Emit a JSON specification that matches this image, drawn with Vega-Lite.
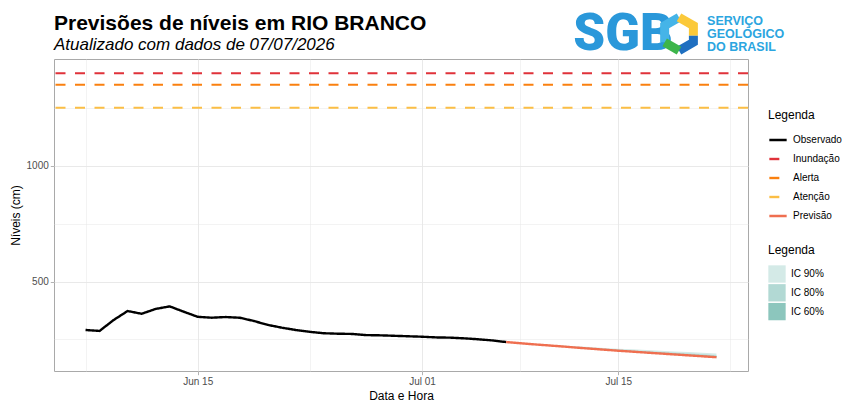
{
  "$schema": "https://vega.github.io/schema/vega-lite/v6.json",
  "width": 694,
  "height": 312,
  "autosize": {"type": "none"},
  "padding": {"left": 54, "top": 59, "right": 97, "bottom": 32},
  "background": "white",
  "title": {
    "text": "Previsões de níveis em RIO BRANCO",
    "subtitle": "Atualizado com dados de 07/07/2026",
    "anchor": "start",
    "frame": "group",
    "font": "Liberation Sans",
    "fontSize": 21,
    "fontWeight": "bold",
    "color": "black",
    "subtitleFont": "Liberation Sans",
    "subtitleFontSize": 17,
    "subtitleFontStyle": "italic",
    "subtitleColor": "black",
    "offset": -54,
    "subtitlePadding": 3
  },
  "config": {
    "font": "Liberation Sans",
    "view": {"stroke": "#A9A9A9", "strokeWidth": 1},
    "axis": {
      "domain": false,
      "tickColor": "#B3B3B3",
      "tickSize": 3.7,
      "labelColor": "#4D4D4D",
      "labelFont": "Liberation Sans",
      "labelFontSize": 10,
      "labelPadding": 2,
      "titleFont": "Liberation Sans",
      "titleFontSize": 12,
      "titleFontWeight": "normal",
      "titleColor": "black",
      "gridColor": "#E6E6E6"
    },
    "legend": {
      "orient": "none",
      "padding": 0,
      "titleFont": "Liberation Sans",
      "titleFontSize": 12,
      "titleFontWeight": "normal",
      "titleColor": "black",
      "titlePadding": 8,
      "labelFont": "Liberation Sans",
      "labelFontSize": 10,
      "labelColor": "black",
      "labelOffset": 5
    }
  },
  "datasets": {
    "serie": [
      {"data": "2026-06-07", "nivel": 291, "tipo": "Observado"},
      {"data": "2026-06-08", "nivel": 287, "tipo": "Observado"},
      {"data": "2026-06-09", "nivel": 334, "tipo": "Observado"},
      {"data": "2026-06-10", "nivel": 373, "tipo": "Observado"},
      {"data": "2026-06-11", "nivel": 361, "tipo": "Observado"},
      {"data": "2026-06-12", "nivel": 382, "tipo": "Observado"},
      {"data": "2026-06-13", "nivel": 393, "tipo": "Observado"},
      {"data": "2026-06-14", "nivel": 370, "tipo": "Observado"},
      {"data": "2026-06-15", "nivel": 348, "tipo": "Observado"},
      {"data": "2026-06-16", "nivel": 344, "tipo": "Observado"},
      {"data": "2026-06-17", "nivel": 347, "tipo": "Observado"},
      {"data": "2026-06-18", "nivel": 344, "tipo": "Observado"},
      {"data": "2026-06-19", "nivel": 330, "tipo": "Observado"},
      {"data": "2026-06-20", "nivel": 313, "tipo": "Observado"},
      {"data": "2026-06-21", "nivel": 301, "tipo": "Observado"},
      {"data": "2026-06-22", "nivel": 291, "tipo": "Observado"},
      {"data": "2026-06-23", "nivel": 283, "tipo": "Observado"},
      {"data": "2026-06-24", "nivel": 277, "tipo": "Observado"},
      {"data": "2026-06-25", "nivel": 275, "tipo": "Observado"},
      {"data": "2026-06-26", "nivel": 274, "tipo": "Observado"},
      {"data": "2026-06-27", "nivel": 269, "tipo": "Observado"},
      {"data": "2026-06-28", "nivel": 268, "tipo": "Observado"},
      {"data": "2026-06-29", "nivel": 266, "tipo": "Observado"},
      {"data": "2026-06-30", "nivel": 264, "tipo": "Observado"},
      {"data": "2026-07-01", "nivel": 262, "tipo": "Observado"},
      {"data": "2026-07-02", "nivel": 259, "tipo": "Observado"},
      {"data": "2026-07-03", "nivel": 258, "tipo": "Observado"},
      {"data": "2026-07-04", "nivel": 255, "tipo": "Observado"},
      {"data": "2026-07-05", "nivel": 251, "tipo": "Observado"},
      {"data": "2026-07-06", "nivel": 246, "tipo": "Observado"},
      {"data": "2026-07-07", "nivel": 239, "tipo": "Observado"},
      {"data": "2026-07-07", "nivel": 239, "tipo": "Previsão"},
      {"data": "2026-07-08", "nivel": 234, "tipo": "Previsão"},
      {"data": "2026-07-09", "nivel": 229, "tipo": "Previsão"},
      {"data": "2026-07-10", "nivel": 224.5, "tipo": "Previsão"},
      {"data": "2026-07-11", "nivel": 220, "tipo": "Previsão"},
      {"data": "2026-07-12", "nivel": 215, "tipo": "Previsão"},
      {"data": "2026-07-13", "nivel": 210.5, "tipo": "Previsão"},
      {"data": "2026-07-14", "nivel": 206, "tipo": "Previsão"},
      {"data": "2026-07-15", "nivel": 201.5, "tipo": "Previsão"},
      {"data": "2026-07-16", "nivel": 197.5, "tipo": "Previsão"},
      {"data": "2026-07-17", "nivel": 193.5, "tipo": "Previsão"},
      {"data": "2026-07-18", "nivel": 189.5, "tipo": "Previsão"},
      {"data": "2026-07-19", "nivel": 185.5, "tipo": "Previsão"},
      {"data": "2026-07-20", "nivel": 181.5, "tipo": "Previsão"},
      {"data": "2026-07-21", "nivel": 177.5, "tipo": "Previsão"},
      {"data": "2026-07-22", "nivel": 173.5, "tipo": "Previsão"}
    ],
    "ic": [
      {"data": "2026-07-07", "lo90": 239, "hi90": 239, "lo80": 239, "hi80": 239, "lo60": 239, "hi60": 239},
      {"data": "2026-07-08", "lo90": 234, "hi90": 235, "lo80": 234, "hi80": 234.6, "lo60": 234, "hi60": 234.3},
      {"data": "2026-07-09", "lo90": 228.7, "hi90": 231.2, "lo80": 228.8, "hi80": 230.2, "lo60": 228.9, "hi60": 229.6},
      {"data": "2026-07-10", "lo90": 224, "hi90": 227.8, "lo80": 224.2, "hi80": 226.3, "lo60": 224.4, "hi60": 225.4},
      {"data": "2026-07-11", "lo90": 219.4, "hi90": 224.4, "lo80": 219.6, "hi80": 222.4, "lo60": 219.8, "hi60": 221.2},
      {"data": "2026-07-12", "lo90": 214.3, "hi90": 220.5, "lo80": 214.5, "hi80": 218, "lo60": 214.8, "hi60": 216.5},
      {"data": "2026-07-13", "lo90": 209.6, "hi90": 217.1, "lo80": 209.9, "hi80": 214.1, "lo60": 210.2, "hi60": 212.3},
      {"data": "2026-07-14", "lo90": 205, "hi90": 213.7, "lo80": 205.3, "hi80": 210.2, "lo60": 205.6, "hi60": 208.1},
      {"data": "2026-07-15", "lo90": 200.3, "hi90": 210.3, "lo80": 200.7, "hi80": 206.3, "lo60": 201.1, "hi60": 203.9},
      {"data": "2026-07-16", "lo90": 196.2, "hi90": 207.4, "lo80": 196.6, "hi80": 202.9, "lo60": 197, "hi60": 200.2},
      {"data": "2026-07-17", "lo90": 192, "hi90": 204.5, "lo80": 192.5, "hi80": 199.5, "lo60": 193, "hi60": 196.5},
      {"data": "2026-07-18", "lo90": 187.9, "hi90": 201.6, "lo80": 188.4, "hi80": 196.1, "lo60": 189, "hi60": 192.8},
      {"data": "2026-07-19", "lo90": 183.7, "hi90": 198.7, "lo80": 184.3, "hi80": 192.7, "lo60": 184.9, "hi60": 189.1},
      {"data": "2026-07-20", "lo90": 179.6, "hi90": 195.8, "lo80": 180.2, "hi80": 189.3, "lo60": 180.9, "hi60": 185.4},
      {"data": "2026-07-21", "lo90": 175.4, "hi90": 192.9, "lo80": 176.1, "hi80": 185.9, "lo60": 176.8, "hi60": 181.7},
      {"data": "2026-07-22", "lo90": 171.3, "hi90": 190, "lo80": 172, "hi80": 182.5, "lo60": 172.8, "hi60": 178}
    ],
    "cotas": [
      {"tipo": "Inundação", "nivel": 1400},
      {"tipo": "Alerta", "nivel": 1350},
      {"tipo": "Atenção", "nivel": 1250}
    ]
  },
  "layer": [
    {
      "data": {"name": "ic"},
      "mark": {"type": "area", "opacity": 1},
      "encoding": {
        "x": {
          "field": "data",
          "type": "temporal",
          "title": "Data e Hora",
          "scale": {
            "type": "utc",
            "domain": [
              {"year": 2026, "month": 6, "date": 4, "hours": 18, "utc": true},
              {"year": 2026, "month": 7, "date": 24, "hours": 6, "utc": true}
            ]
          },
          "axis": {
            "values": [
              {"year": 2026, "month": 6, "date": 7, "utc": true},
              {"year": 2026, "month": 6, "date": 15, "utc": true},
              {"year": 2026, "month": 6, "date": 23, "utc": true},
              {"year": 2026, "month": 7, "date": 1, "utc": true},
              {"year": 2026, "month": 7, "date": 8, "utc": true},
              {"year": 2026, "month": 7, "date": 15, "utc": true},
              {"year": 2026, "month": 7, "date": 23, "utc": true}
            ],
            "labelExpr": "(utcdate(datum.value) == 15 || utcdate(datum.value) == 1) ? utcFormat(datum.value, '%b %d') : ''",
            "tickOpacity": {"condition": {"test": "utcdate(datum.value) == 15 || utcdate(datum.value) == 1", "value": 1}, "value": 0},
            "gridWidth": {"condition": {"test": "utcdate(datum.value) == 15 || utcdate(datum.value) == 1", "value": 0.9}, "value": 0.5},
            "titlePadding": 4
          }
        },
        "y": {
          "field": "lo90",
          "type": "quantitative",
          "title": "Níveis (cm)",
          "scale": {"domain": [114, 1461], "nice": false, "zero": false},
          "axis": {
            "values": [250, 500, 750, 1000, 1250],
            "format": "d",
            "labelExpr": "(datum.value == 500 || datum.value == 1000) ? datum.label : ''",
            "tickOpacity": {"condition": {"test": "datum.value == 500 || datum.value == 1000", "value": 1}, "value": 0},
            "gridWidth": {"condition": {"test": "datum.value == 500 || datum.value == 1000", "value": 0.9}, "value": 0.5},
            "titlePadding": 4
          }
        },
        "y2": {"field": "hi90"},
        "fill": {
          "datum": "IC 90%",
          "type": "nominal",
          "scale": {"domain": ["IC 90%", "IC 80%", "IC 60%"], "range": ["#D4EAE7", "#B2D9D4", "#8CC6BD"]},
          "legend": {"title": "Legenda", "legendX": 714, "legendY": 186, "symbolType": "square", "symbolSize": 300, "symbolStrokeWidth": 0, "symbolOpacity": 1, "rowPadding": 0.8}
        }
      }
    },
    {
      "data": {"name": "ic"},
      "mark": {"type": "area", "opacity": 1},
      "encoding": {
        "x": {"field": "data", "type": "temporal"},
        "y": {"field": "lo80", "type": "quantitative"},
        "y2": {"field": "hi80"},
        "fill": {"datum": "IC 80%", "type": "nominal"}
      }
    },
    {
      "data": {"name": "ic"},
      "mark": {"type": "area", "opacity": 1},
      "encoding": {
        "x": {"field": "data", "type": "temporal"},
        "y": {"field": "lo60", "type": "quantitative"},
        "y2": {"field": "hi60"},
        "fill": {"datum": "IC 60%", "type": "nominal"}
      }
    },
    {
      "data": {"name": "cotas"},
      "mark": {"type": "rule", "strokeWidth": 2},
      "encoding": {
        "y": {"field": "nivel", "type": "quantitative"},
        "stroke": {
          "field": "tipo",
          "type": "nominal",
          "scale": {"domain": ["Observado", "Inundação", "Alerta", "Atenção", "Previsão"], "range": ["#000000", "#E0323A", "#FA800F", "#FBBE45", "#EF6F50"]},
          "legend": {"title": "Legenda", "legendX": 714, "legendY": 51, "symbolType": "stroke", "symbolSize": 300, "symbolStrokeWidth": 2.4, "rowPadding": 4}
        },
        "strokeDash": {
          "field": "tipo",
          "type": "nominal",
          "scale": {"domain": ["Observado", "Inundação", "Alerta", "Atenção", "Previsão"], "range": [[1, 0], [10, 9.5], [10, 9.5], [10, 9.5], [1, 0]]},
          "legend": {"title": "Legenda", "legendX": 714, "legendY": 51, "symbolType": "stroke", "symbolSize": 300, "symbolStrokeWidth": 2.4, "rowPadding": 4}
        }
      }
    },
    {
      "data": {"name": "serie"},
      "mark": {"type": "line", "strokeWidth": 2.4, "strokeJoin": "round"},
      "encoding": {
        "x": {"field": "data", "type": "temporal"},
        "y": {"field": "nivel", "type": "quantitative"},
        "stroke": {"field": "tipo", "type": "nominal"},
        "strokeDash": {"field": "tipo", "type": "nominal"}
      }
    },
    {
      "data": {"values": [{}]},
      "mark": {"type": "text", "text": "SGB", "font": "Roboto", "fontSize": 51, "fontWeight": 900, "color": "#2A98DA", "align": "left", "baseline": "alphabetic"},
      "encoding": {
        "x": {"datum": {"year": 2026, "month": 7, "date": 11, "hours": 19, "minutes": 0, "utc": true}, "type": "temporal"},
        "y": {"datum": 1498, "type": "quantitative"}
      }
    },
    {
      "data": {"values": [{}]},
      "mark": {"type": "point", "shape": "M -0.866 0.5 L -0.866 -0.5 L 0 -1", "size": 1100, "filled": false, "stroke": "#45B4E8", "strokeWidth": 9, "opacity": 1},
      "encoding": {
        "x": {"datum": {"year": 2026, "month": 7, "date": 19, "hours": 7, "minutes": 55, "utc": true}, "type": "temporal"},
        "y": {"datum": 1569, "type": "quantitative"}
      }
    },
    {
      "data": {"values": [{}]},
      "mark": {"type": "point", "shape": "M 0 -1 L 0.866 -0.5 L 0.866 0.1", "size": 1100, "filled": false, "stroke": "#FBC93A", "strokeWidth": 9, "opacity": 1},
      "encoding": {
        "x": {"datum": {"year": 2026, "month": 7, "date": 19, "hours": 7, "minutes": 55, "utc": true}, "type": "temporal"},
        "y": {"datum": 1569, "type": "quantitative"}
      }
    },
    {
      "data": {"values": [{}]},
      "mark": {"type": "point", "shape": "M 0.866 0.1 L 0.866 0.5 L 0 1", "size": 1100, "filled": false, "stroke": "#1F6FC0", "strokeWidth": 9, "opacity": 1},
      "encoding": {
        "x": {"datum": {"year": 2026, "month": 7, "date": 19, "hours": 7, "minutes": 55, "utc": true}, "type": "temporal"},
        "y": {"datum": 1569, "type": "quantitative"}
      }
    },
    {
      "data": {"values": [{}]},
      "mark": {"type": "point", "shape": "M 0 1 L -0.866 0.5", "size": 1100, "filled": false, "stroke": "#3DB54A", "strokeWidth": 9, "opacity": 1},
      "encoding": {
        "x": {"datum": {"year": 2026, "month": 7, "date": 19, "hours": 7, "minutes": 55, "utc": true}, "type": "temporal"},
        "y": {"datum": 1569, "type": "quantitative"}
      }
    },
    {
      "data": {"values": [{}]},
      "mark": {"type": "text", "text": ["SERVIÇO", "GEOLÓGICO", "DO BRASIL"], "font": "Liberation Sans", "fontSize": 12.5, "fontWeight": "bold", "color": "#2BA5E0", "align": "left", "baseline": "alphabetic", "lineHeight": 13},
      "encoding": {
        "x": {"datum": {"year": 2026, "month": 7, "date": 21, "hours": 7, "minutes": 55, "utc": true}, "type": "temporal"},
        "y": {"datum": 1608, "type": "quantitative"}
      }
    }
  ]
}
